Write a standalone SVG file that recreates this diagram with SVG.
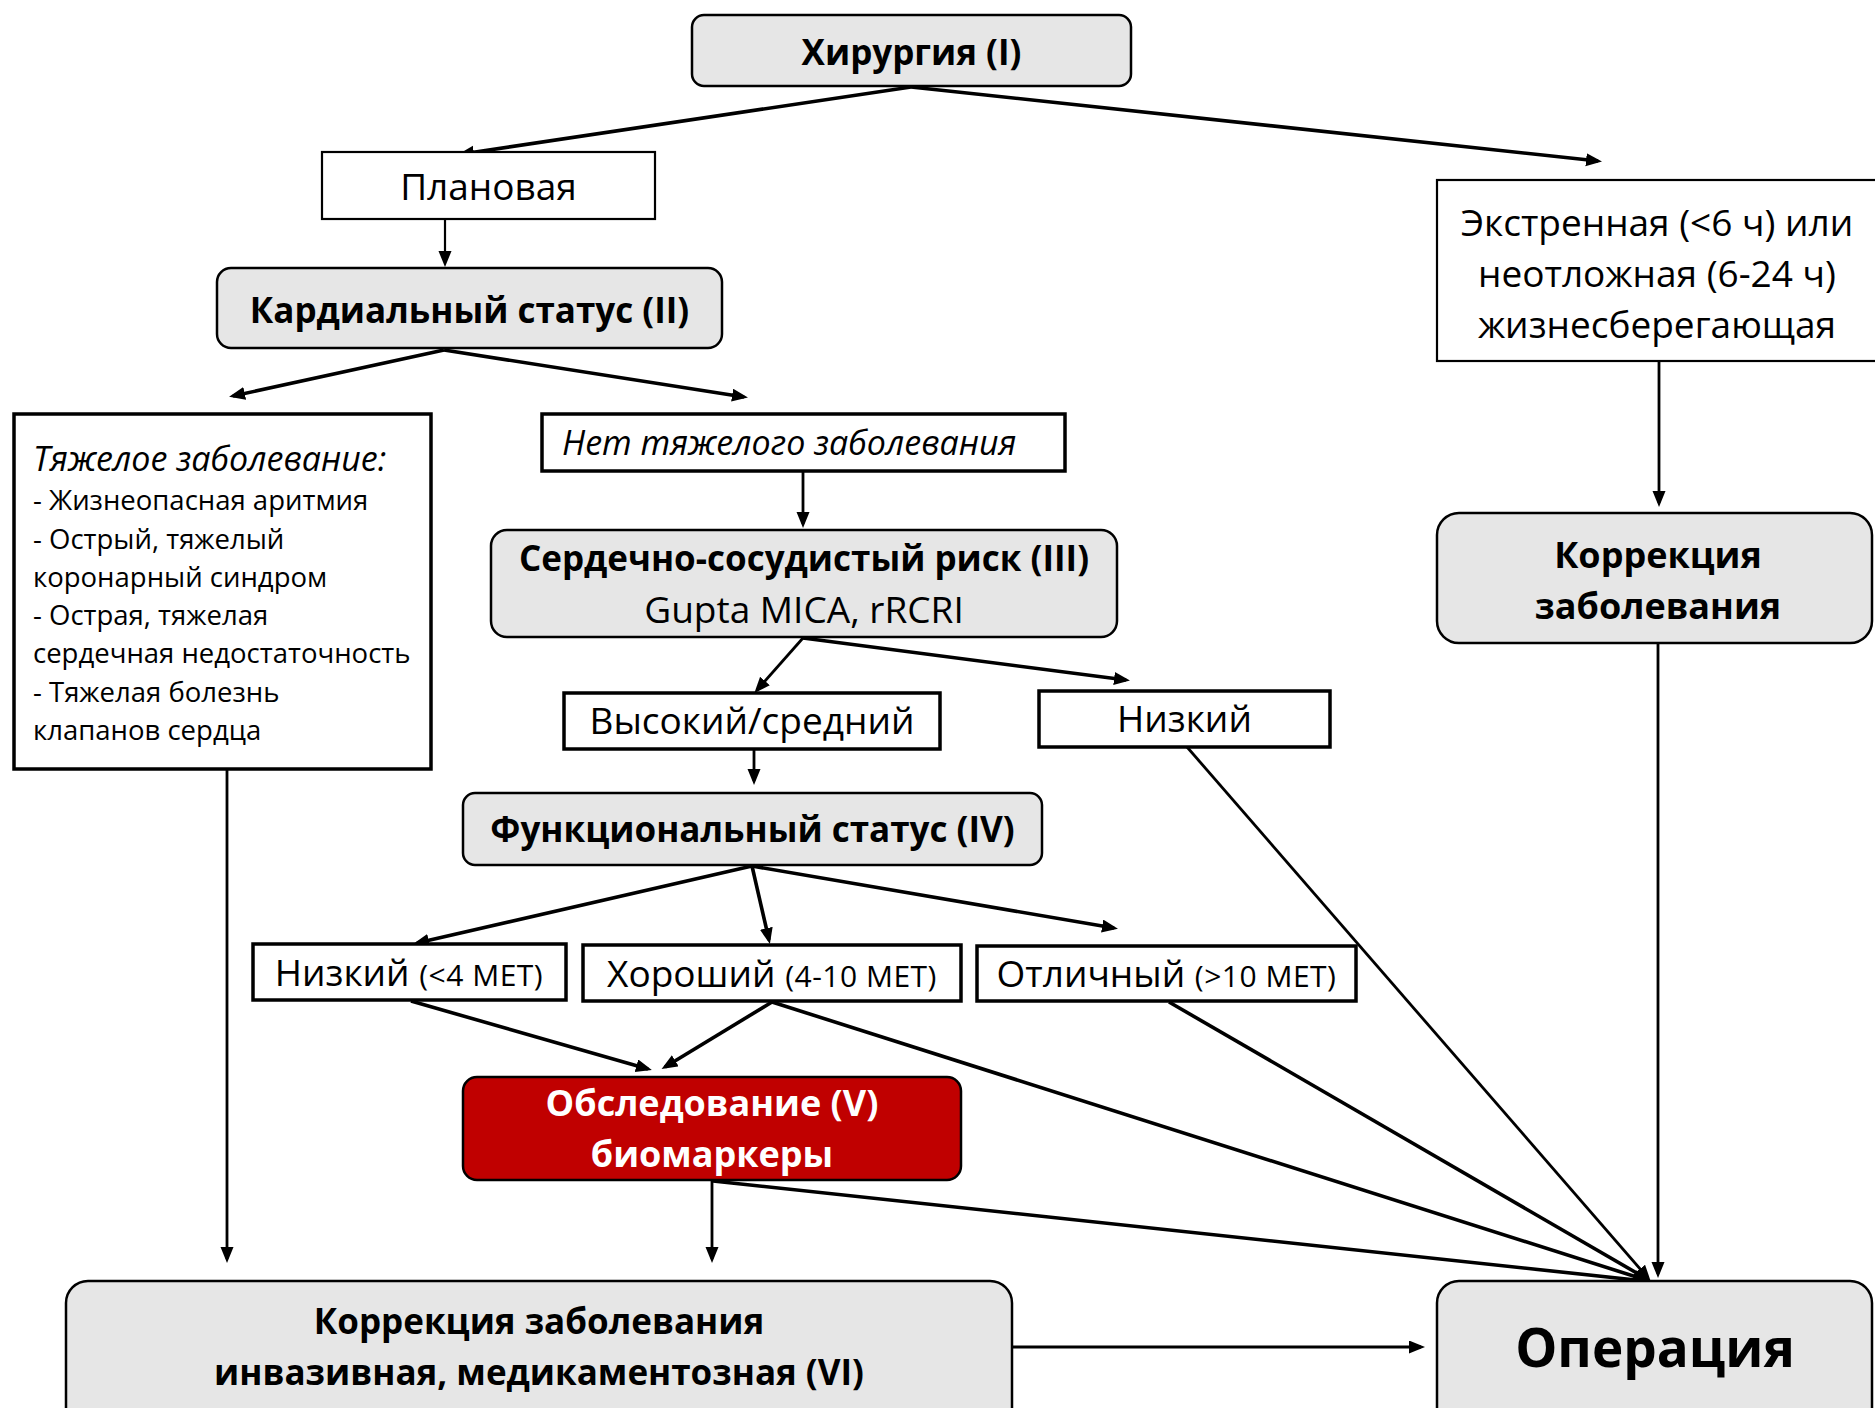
<svg xmlns="http://www.w3.org/2000/svg" width="1875" height="1408" viewBox="0 0 1875 1408">
<defs>
<style>
text{font-family:'Open Sans','Noto Sans','DejaVu Sans',sans-serif;fill:#000}
.b{font-weight:700;font-size:35px}
.r{font-size:37px}
.s{font-size:27.5px}
.it{font-style:italic;font-size:34px}
.p{font-size:30px;letter-spacing:0.5px}
.c{text-anchor:middle}
.gray{fill:#e6e6e6;stroke:#000;stroke-width:2.5}
.wt{fill:#fff;stroke:#000;stroke-width:2.2}
.wk{fill:#fff;stroke:#000;stroke-width:3.5}
.red{fill:#c00000;stroke:#000;stroke-width:2.5}
.wh{fill:#fff}
#connectors line{stroke:#000;fill:none;marker-end:url(#arr)}
.t1{stroke-width:2.2}
.t2{stroke-width:2.8}
.t3{stroke-width:3.6}
</style>
<marker id="arr" markerUnits="userSpaceOnUse" markerWidth="17" markerHeight="14" refX="12" refY="6.5" orient="auto">
<path d="M0,0 L16,6.5 L0,13 z" fill="#000"/>
</marker>
</defs>
<rect width="1875" height="1408" fill="#fff"/>

<g id="connectors">
<line class="t3" x1="911" y1="87" x2="462" y2="154"/>
<line class="t3" x1="911" y1="87" x2="1598" y2="161"/>
<line class="t1" x1="445" y1="220" x2="445" y2="263"/>
<line class="t3" x1="444" y1="350" x2="233" y2="396"/>
<line class="t3" x1="444" y1="350" x2="744" y2="397"/>
<line class="t2" x1="803" y1="472" x2="803" y2="524"/>
<line class="t2" x1="803" y1="638" x2="757" y2="690"/>
<line class="t3" x1="803" y1="638" x2="1126" y2="680"/>
<line class="t2" x1="754" y1="750" x2="754" y2="781"/>
<line class="t3" x1="752" y1="866" x2="417" y2="943"/>
<line class="t3" x1="752" y1="866" x2="769" y2="940"/>
<line class="t3" x1="752" y1="866" x2="1114" y2="928"/>
<line class="t3" x1="411" y1="1001" x2="648" y2="1069"/>
<line class="t3" x1="772" y1="1002" x2="665" y2="1067"/>
<line class="t2" x1="227" y1="770" x2="227" y2="1259"/>
<line class="t2" x1="712" y1="1181" x2="712" y2="1259"/>
<line class="t2" x1="1659" y1="362" x2="1659" y2="503"/>
<line class="t2" x1="1012" y1="1347" x2="1421" y2="1347"/>
<line class="t2" x1="1187" y1="747" x2="1648" y2="1278"/>
<line class="t3" x1="772" y1="1002" x2="1646" y2="1280"/>
<line class="t3" x1="1169" y1="1002" x2="1647" y2="1279"/>
<line class="t3" x1="713" y1="1181" x2="1645" y2="1281"/>
<line class="t2" x1="1658" y1="643" x2="1658" y2="1274"/>
</g>

<g id="n-surgery">
<rect class="gray" x="692" y="15" width="439" height="71" rx="12"/>
<text class="b c" x="911.5" y="65">Хирургия (I)</text>
</g>

<g id="n-planned">
<rect class="wt" x="322" y="152" width="333" height="67"/>
<text class="r c" x="488.5" y="200">Плановая</text>
</g>

<g id="n-cardiac">
<rect class="gray" x="217" y="268" width="505" height="80" rx="14"/>
<text class="b c" x="469.5" y="323">Кардиальный статус (II)</text>
</g>

<g id="n-severe">
<rect class="wk" x="14" y="414" width="417" height="355"/>
<text class="it" x="33" y="471">Тяжелое заболевание:</text>
<text class="s" x="33" y="510">- Жизнеопасная аритмия</text>
<text class="s" x="33" y="549">- Острый, тяжелый</text>
<text class="s" x="33" y="587">коронарный синдром</text>
<text class="s" x="33" y="625">- Острая, тяжелая</text>
<text class="s" x="33" y="663">сердечная недостаточность</text>
<text class="s" x="33" y="702">- Тяжелая болезнь</text>
<text class="s" x="33" y="740">клапанов сердца</text>
</g>

<g id="n-nosevere">
<rect class="wk" x="542" y="414" width="523" height="57"/>
<text class="it" x="562" y="455">Нет тяжелого заболевания</text>
</g>

<g id="n-risk">
<rect class="gray" x="491" y="530" width="626" height="107" rx="16"/>
<text class="b c" x="804" y="571">Сердечно-сосудистый риск (III)</text>
<text class="r c" x="804" y="623">Gupta MICA, rRCRI</text>
</g>

<g id="n-high">
<rect class="wk" x="564" y="693" width="376" height="56"/>
<text class="r c" x="752" y="734">Высокий/средний</text>
</g>

<g id="n-low">
<rect class="wk" x="1039" y="691" width="291" height="56"/>
<text class="r c" x="1184.5" y="732">Низкий</text>
</g>

<g id="n-func">
<rect class="gray" x="463" y="793" width="579" height="72" rx="12"/>
<text class="b c" x="752.5" y="842">Функциональный статус (IV)</text>
</g>

<g id="n-flow">
<rect class="wk" x="253" y="944" width="313" height="56"/>
<text class="r c" x="409" y="986">Низкий <tspan class="p">(&lt;4 МЕТ)</tspan></text>
</g>

<g id="n-fgood">
<rect class="wk" x="583" y="945" width="378" height="56"/>
<text class="r c" x="772" y="987">Хороший <tspan class="p">(4-10 МЕТ)</tspan></text>
</g>

<g id="n-fexc">
<rect class="wk" x="977" y="946" width="379" height="55"/>
<text class="r c" x="1166.5" y="987">Отличный <tspan class="p">(&gt;10 МЕТ)</tspan></text>
</g>

<g id="n-exam">
<rect class="red" x="463" y="1077" width="498" height="103" rx="14"/>
<text class="b c wh" x="712" y="1116" style="font-size:36px">Обследование (V)</text>
<text class="b c wh" x="712" y="1167" style="font-size:36px">биомаркеры</text>
</g>

<g id="n-correct-vi">
<rect class="gray" x="66" y="1281" width="946" height="160" rx="22"/>
<text class="b c" x="539" y="1334">Коррекция заболевания</text>
<text class="b c" x="539" y="1385">инвазивная, медикаментозная (VI)</text>
</g>

<g id="n-operation">
<rect class="gray" x="1437" y="1281" width="435" height="160" rx="22"/>
<text class="b c" x="1655" y="1367" style="font-size:53px">Операция</text>
</g>

<g id="n-emergency">
<rect class="wt" x="1437" y="180" width="460" height="181"/>
<text class="r c" x="1657" y="236">Экстренная (&lt;6 ч) или</text>
<text class="r c" x="1657" y="287">неотложная (6-24 ч)</text>
<text class="r c" x="1657" y="338">жизнесберегающая</text>
</g>

<g id="n-correct-r">
<rect class="gray" x="1437" y="513" width="435" height="130" rx="22"/>
<text class="b c" x="1658" y="568" style="font-size:36px">Коррекция</text>
<text class="b c" x="1658" y="619" style="font-size:36px">заболевания</text>
</g>
</svg>
